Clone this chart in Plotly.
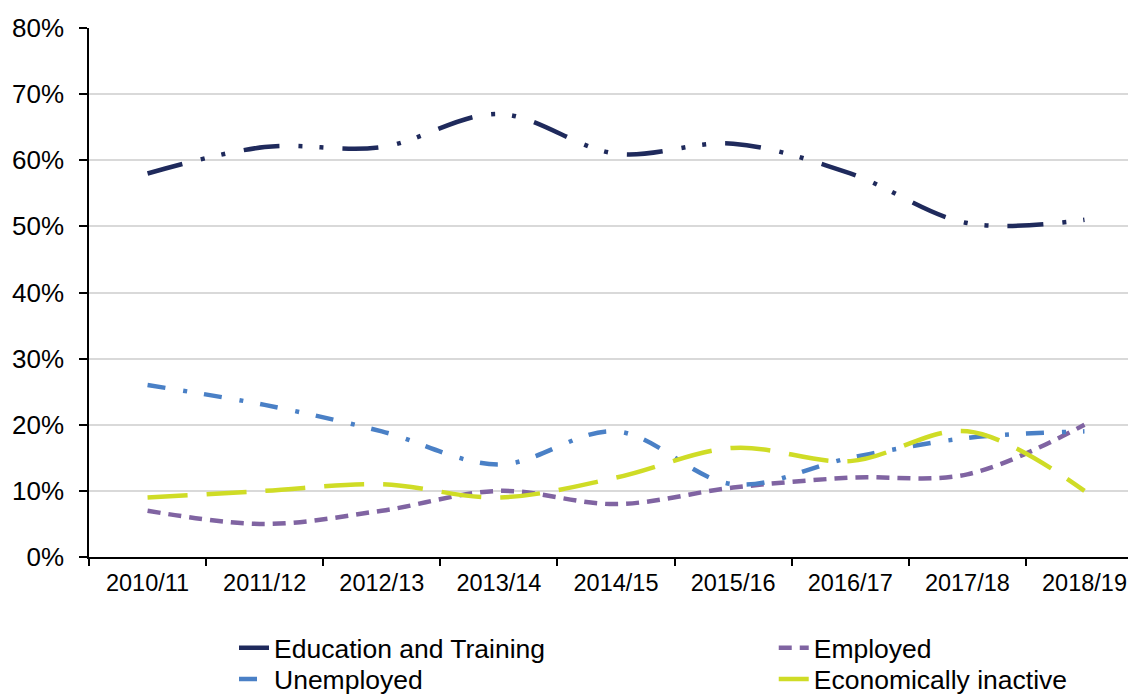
import plotly.graph_objects as go

categories = ["2010/11", "2011/12", "2012/13", "2013/14", "2014/15",
              "2015/16", "2016/17", "2017/18", "2018/19"]
education = [58, 62, 62, 67, 61, 62.5, 58, 50.5, 51]
employed = [7, 5, 7, 10, 8, 10.5, 12, 12.5, 20]
unemployed = [26, 23, 19, 14, 19, 11, 15, 18, 19]
inactive = [9, 10, 11, 9, 12, 16.5, 14.5, 19, 10]

FONT = "Liberation Sans, Arial, sans-serif"

fig = go.Figure()
fig.add_trace(go.Scatter(
    x=categories, y=education, name="Education and Training", mode="lines",
    line=dict(color="#1f2a5c", width=4.5, shape="spline", smoothing=1,
              dash="36px,19px,4px,17px,4px,19px"),
    legend="legend", showlegend=True))
fig.add_trace(go.Scatter(
    x=categories, y=employed, name="Employed", mode="lines",
    line=dict(color="#8064a2", width=4.5, shape="spline", smoothing=1,
              dash="13px,8px"),
    legend="legend2", showlegend=True))
fig.add_trace(go.Scatter(
    x=categories, y=unemployed, name="Unemployed", mode="lines",
    line=dict(color="#4a80c6", width=4.5, shape="spline", smoothing=1,
              dash="18px,18px,4px,17px"),
    legend="legend3", showlegend=True))
fig.add_trace(go.Scatter(
    x=categories, y=inactive, name="Economically inactive", mode="lines",
    line=dict(color="#cfdc26", width=4.5, shape="spline", smoothing=1,
              dash="40px,19px"),
    legend="legend4", showlegend=True))

leg_common = dict(xanchor="left", yanchor="top", orientation="v",
                  font=dict(size=26.5, family=FONT),
                  bgcolor="rgba(0,0,0,0)")
row1_y = -0.1267
row2_y = -0.1860
col1_x = 0.1385
col2_x = 0.654

fig.update_layout(
    width=1128, height=686,
    showlegend=True,
    margin=dict(l=81, r=0, t=20, b=137, autoexpand=False),
    paper_bgcolor="white", plot_bgcolor="white",
    font=dict(family=FONT, color="#000000"),
    legend=dict(x=col1_x, y=row1_y, **leg_common),
    legend2=dict(x=col2_x, y=row1_y, **leg_common),
    legend3=dict(x=col1_x, y=row2_y, **leg_common),
    legend4=dict(x=col2_x, y=row2_y, **leg_common),
)
fig.update_xaxes(
    type="category", range=[-0.5, 8.44], automargin=False,
    showgrid=False, showline=True, linecolor="#000000", linewidth=1.5,
    ticks="outside", tickson="boundaries", ticklen=7, tickwidth=1.5,
    tickcolor="#000000", tickfont=dict(size=23.5, family=FONT, color="#000000"),
    ticklabelstandoff=4, zeroline=False)
fig.update_yaxes(
    range=[0, 80], dtick=10, ticksuffix="%", automargin=False,
    showgrid=True, gridcolor="#d9d9d9", gridwidth=1.5,
    showline=True, linecolor="#000000", linewidth=1.5,
    ticks="outside", ticklen=8, tickwidth=1.5, tickcolor="#000000",
    tickfont=dict(size=26, family=FONT, color="#000000"),
    ticklabelstandoff=10, zeroline=False)

fig.write_html("out.html")
